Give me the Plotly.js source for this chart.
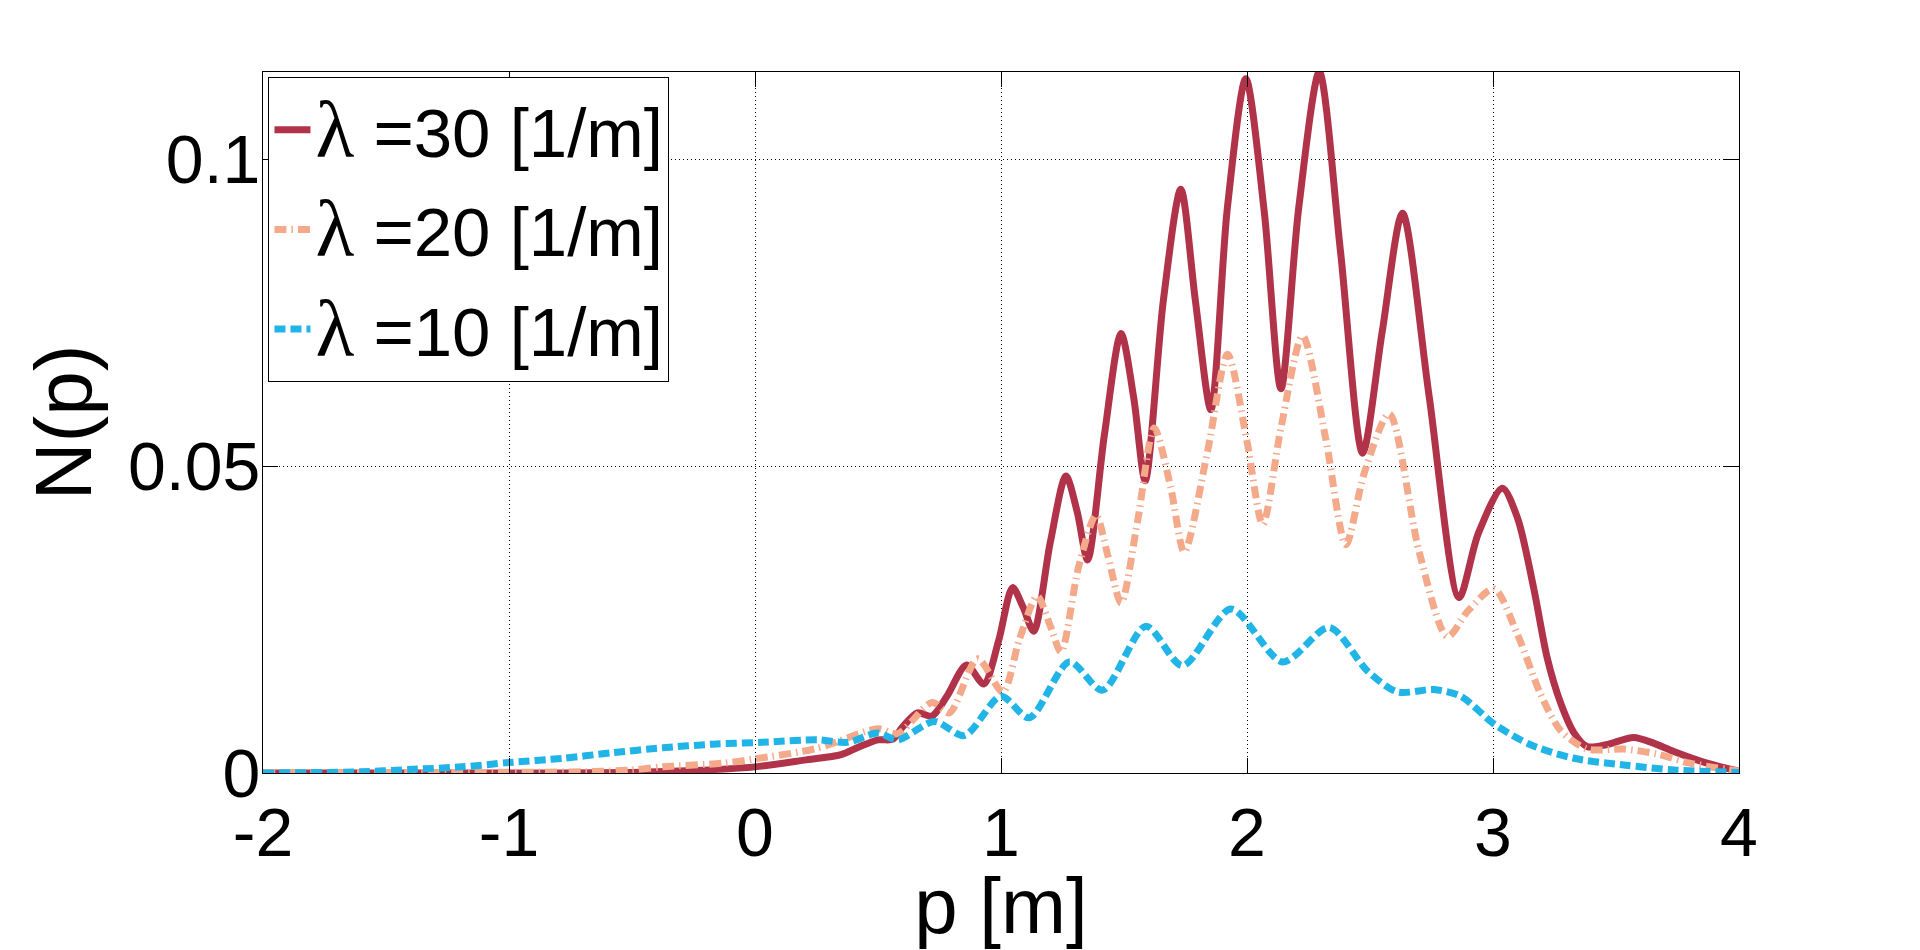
<!DOCTYPE html>
<html>
<head>
<meta charset="utf-8">
<script src="https://cdn.plot.ly/plotly-3.0.1.min.js"></script>
<style>
html,body{margin:0;padding:0;background:#fff;}
#chart{width:1920px;height:950px;}
</style>
</head>
<body>
<div id="chart"></div>
<script>
// ---- data ----
const seriesNames = ['λ =30 [1/m]', 'λ =20 [1/m]', 'λ =10 [1/m]'];

const p30 = [-2, -1, -0.5, -0.25, 0, 0.2, 0.35, 0.42, 0.5, 0.56, 0.6, 0.66, 0.72, 0.78, 0.86, 0.93, 0.99, 1.047, 1.09, 1.133, 1.2, 1.264, 1.31, 1.352, 1.42, 1.488, 1.54, 1.586, 1.66, 1.731, 1.79, 1.853, 1.92, 1.995, 2.07, 2.138, 2.21, 2.294, 2.38, 2.47, 2.55, 2.632, 2.74, 2.862, 2.94, 3.038, 3.1, 3.166, 3.22, 3.275, 3.33, 3.383, 3.46, 3.572, 3.65, 3.735, 3.87, 4.0];
const n30 = [0, 0, 0.0001, 0.0004, 0.0010, 0.0021, 0.0030, 0.0042, 0.0054, 0.0055, 0.0075, 0.0098, 0.0093, 0.0125, 0.0176, 0.0145, 0.0215, 0.0302, 0.0270, 0.0231, 0.0375, 0.0484, 0.0425, 0.0347, 0.0550, 0.0716, 0.0610, 0.0476, 0.0770, 0.0951, 0.0770, 0.0592, 0.0920, 0.1131, 0.0915, 0.0626, 0.0920, 0.1142, 0.0850, 0.0521, 0.0720, 0.0912, 0.0615, 0.0286, 0.0390, 0.0464, 0.0415, 0.0300, 0.0188, 0.0114, 0.0065, 0.0043, 0.0046, 0.0058, 0.0049, 0.0035, 0.0016, 0.0003];

const p20 = [-2, -0.7, -0.5, -0.375, -0.13, 0, 0.25, 0.5, 0.58, 0.72, 0.79, 0.905, 1.007, 1.075, 1.147, 1.2, 1.244, 1.315, 1.386, 1.435, 1.488, 1.555, 1.623, 1.69, 1.745, 1.84, 1.921, 2.0, 2.064, 2.138, 2.226, 2.32, 2.402, 2.476, 2.578, 2.7, 2.815, 2.9, 3.004, 3.099, 3.193, 3.275, 3.383, 3.53, 3.667, 3.8, 4.0];
const n20 = [0.0001, 0.0002, 0.0005, 0.0010, 0.0016, 0.0023, 0.0040, 0.0072, 0.0064, 0.0115, 0.0098, 0.0186, 0.0132, 0.0218, 0.0288, 0.0240, 0.0197, 0.0335, 0.0420, 0.0353, 0.0277, 0.0410, 0.0562, 0.0465, 0.0360, 0.0525, 0.0682, 0.0540, 0.0405, 0.0562, 0.0712, 0.0545, 0.0372, 0.0488, 0.0585, 0.0360, 0.0222, 0.0265, 0.0300, 0.0226, 0.0129, 0.0069, 0.0039, 0.0039, 0.0031, 0.0016, 0.0003];

const p10 = [-2, -1.6, -1.39, -1.19, -1.0, -0.78, -0.58, -0.375, -0.17, 0.03, 0.255, 0.377, 0.499, 0.58, 0.729, 0.851, 1.0, 1.115, 1.278, 1.413, 1.589, 1.738, 1.935, 2.145, 2.334, 2.49, 2.612, 2.76, 2.869, 3.004, 3.153, 3.329, 3.532, 3.735, 4.0];
const n10 = [0.0000, 0.0002, 0.0006, 0.0010, 0.0017, 0.0024, 0.0033, 0.0041, 0.0047, 0.0050, 0.0054, 0.0050, 0.0065, 0.0054, 0.0084, 0.0061, 0.0125, 0.0090, 0.0181, 0.0135, 0.0239, 0.0175, 0.0267, 0.0181, 0.0237, 0.0166, 0.0132, 0.0136, 0.0125, 0.0080, 0.0046, 0.0024, 0.0013, 0.0005, 0.0001];

const xTicks = [-2, -1, 0, 1, 2, 3, 4];
const yTicks = [0, 0.05, 0.1];
const yTickText = ['0', '0.05', '0.1'];

// ---- styling ----
const FONT = '"Liberation Sans", Arial, Helvetica, sans-serif';
function legendLabel(name) {
  return '<span style="font-family:\'Liberation Serif\', \'Times New Roman\', serif;font-size:80px">λ</span>' + name.slice(1);
}

const traces = [
  {x: p30, y: n30, name: legendLabel(seriesNames[0]), legendgroup: 'a',
   line: {color: '#B0334A', width: 7, shape: 'spline', smoothing: 0.8}},
  {x: p20, y: n20, name: legendLabel(seriesNames[1]), legendgroup: 'b',
   line: {color: '#F4AA8A', width: 7, shape: 'spline', smoothing: 0.8, dash: '12px,5px,1.5px,5px'}},
  {x: p10, y: n10, name: legendLabel(seriesNames[2]), legendgroup: 'c',
   line: {color: '#21B4E6', width: 7, shape: 'spline', smoothing: 0.8, dash: '11px,5px'}}
].map(t => Object.assign({type: 'scatter', mode: 'lines', hoverinfo: 'skip'}, t));

const axisCommon = {
  showline: true, linecolor: '#000', linewidth: 1, mirror: 'ticks',
  ticks: 'inside', ticklen: 15, tickwidth: 1, tickcolor: '#000',
  showgrid: true, gridcolor: '#000', gridwidth: 1, griddash: '1px,3px',
  zeroline: false, tickfont: {family: FONT, size: 68, color: '#000'},
  automargin: false
};

const layout = {
  width: 1920, height: 950,
  paper_bgcolor: '#fff', plot_bgcolor: '#fff',
  margin: {l: 262.5, r: 181, t: 71.7, b: 177, pad: 0},
  font: {family: FONT, color: '#000'},
  showlegend: true,
  legend: {
    x: 0.0037, y: 0.9924, xanchor: 'left', yanchor: 'top',
    bgcolor: '#fff', bordercolor: '#000', borderwidth: 1,
    font: {family: FONT, size: 69, color: '#000'},
    traceorder: 'grouped', tracegroupgap: 7, itemwidth: 36
  },
  xaxis: Object.assign({}, axisCommon, {
    range: [-2, 4], tickvals: xTicks, ticktext: xTicks.map(String),
    title: {text: 'p [m]', font: {family: FONT, size: 78, color: '#000'}, standoff: 15}
  }),
  yaxis: Object.assign({}, axisCommon, {
    range: [0, 0.1142], tickvals: yTicks, ticktext: yTickText,
    ticklabelstandoff: -12,
    title: {text: 'N(p)', font: {family: FONT, size: 80, color: '#000'}, standoff: 10}
  })
};

Plotly.newPlot('chart', traces, layout, {displayModeBar: false, staticPlot: true});
</script>
</body>
</html>
